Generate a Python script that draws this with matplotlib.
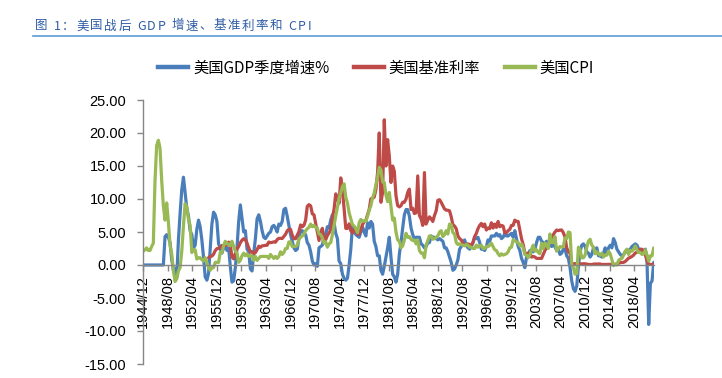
import numpy as np
import matplotlib
matplotlib.use('Agg')
import matplotlib.pyplot as plt
from matplotlib.lines import Line2D

plt.rcParams['font.family'] = ['Noto Sans CJK SC', 'DejaVu Sans']

nan = float('nan')

# Quarterly samples, first = 1944/12, last = 2021/03 (quarter-end months)
gdp_yoy = [
    0,
    0, 0, 0, 0,            # 1945
    0, 0, 0, 0,            # 1946
    0, 0, 0, 0,            # 1947
    4.3, 4.6, 4.2, 3.4,    # 1948
    0.8, -0.8, -0.5, -1.8, # 1949
    3.8, 7.8, 11.4, 13.3,  # 1950
    11.0, 8.6, 7.4, 5.2,   # 1951
    4.6, 2.6, 3.0, 5.4,    # 1952
    6.8, 5.8, 3.8, 1.2,    # 1953
    -1.8, -2.3, -1.3, 2.4, # 1954
    6.2, 8.0, 7.6, 6.6,    # 1955
    3.2, 2.5, 1.8, 2.6,    # 1956
    2.8, 2.2, 2.6, -0.2,   # 1957
    -2.6, -2.4, -0.4, 2.6, # 1958
    6.6, 9.1, 7.0, 5.0,    # 1959
    5.2, 2.4, 2.0, -0.6,   # 1960
    -0.9, 1.8, 4.0, 7.0,   # 1961
    7.6, 6.6, 5.2, 4.2,    # 1962
    4.0, 4.4, 4.8, 5.0,    # 1963
    5.8, 6.0, 5.6, 5.0,    # 1964
    6.2, 6.0, 6.6, 8.4,    # 1965
    8.6, 7.4, 6.0, 4.6,    # 1966
    3.6, 2.6, 2.2, 2.4,    # 1967
    4.0, 5.2, 5.2, 4.8,    # 1968
    4.6, 3.4, 3.0, 2.0,    # 1969
    0.6, 0.0, 0.2, -0.2,   # 1970
    2.6, 2.8, 3.0, 4.4,    # 1971
    4.6, 5.8, 5.6, 6.8,    # 1972
    7.6, 6.4, 4.8, 4.0,    # 1973
    0.6, 0.2, -1.4, -2.0,  # 1974
    -2.3, -2.0, 0.0, 2.4,  # 1975
    6.0, 5.6, 4.6, 4.4,    # 1976
    4.2, 5.0, 5.8, 5.0,    # 1977
    4.4, 6.4, 5.6, 6.6,    # 1978
    6.2, 3.6, 2.8, 1.4,    # 1979
    1.4, -0.8, -1.4, -0.2, # 1980
    1.2, 2.6, 4.2, 1.2,    # 1981
    -1.4, -1.8, -2.6, -1.4,# 1982
    1.6, 3.4, 5.6, 7.6,    # 1983
    8.4, 8.4, 7.4, 5.6,    # 1984
    4.6, 4.0, 4.2, 4.2,    # 1985
    4.2, 3.2, 3.0, 2.6,    # 1986
    2.8, 3.4, 3.4, 4.4,    # 1987
    4.2, 4.2, 4.0, 3.8,    # 1988
    4.0, 3.8, 3.6, 2.6,    # 1989
    2.6, 2.0, 1.2, 0.4,    # 1990
    -0.8, -0.6, 0.0, 0.8,  # 1991
    2.4, 2.8, 3.2, 3.8,    # 1992
    3.0, 2.6, 2.4, 2.8,    # 1993
    3.4, 4.2, 4.0, 4.2,    # 1994
    3.4, 2.4, 2.4, 2.2,    # 1995
    2.8, 3.8, 3.6, 4.4,    # 1996
    4.4, 4.4, 4.8, 4.4,    # 1997
    4.6, 4.0, 4.2, 4.8,    # 1998
    4.4, 4.4, 4.6, 4.8,    # 1999
    4.2, 5.2, 4.0, 2.8,    # 2000
    2.2, 1.0, 0.4, -0.4,   # 2001
    1.2, 1.6, 2.2, 2.0,    # 2002
    2.0, 2.4, 3.4, 4.2,    # 2003
    4.2, 3.6, 3.4, 3.2,    # 2004
    3.6, 3.2, 3.2, 2.8,    # 2005
    3.0, 2.8, 2.2, 2.4,    # 2006
    1.6, 1.8, 2.4, 2.4,    # 2007
    1.4, 1.0, -0.4, -2.4,  # 2008
    -3.6, -4.0, -3.2, -0.2,# 2009
    2.0, 3.0, 3.2, 2.8,    # 2010
    2.0, 1.8, 1.2, 1.6,    # 2011
    2.6, 2.4, 2.6, 1.4,    # 2012
    1.4, 1.2, 1.8, 2.6,    # 2013
    1.6, 2.6, 3.0, 2.6,    # 2014
    4.0, 3.4, 2.4, 2.0,    # 2015
    1.6, 1.4, 1.6, 2.0,    # 2016
    2.0, 2.2, 2.4, 2.8,    # 2017
    3.0, 3.2, 3.0, 2.4,    # 2018
    2.2, 2.0, 2.2, 2.4,    # 2019
    0.4, -9.0, -2.8, -2.4, # 2020
    0.4,                   # 2021
]

fed_rate = [nan] * 39 + [
    1.1, 1.3,                  # 1954 Q3-Q4
    1.35, 1.64, 2.18, 2.48,    # 1955
    2.5, 2.71, 2.95, 2.94,     # 1956
    2.96, 3.0, 3.47, 2.98,     # 1957
    1.2, 0.93, 1.76, 2.42,     # 1958
    2.8, 3.39, 3.76, 3.99,     # 1959
    3.84, 3.32, 2.6, 1.98,     # 1960
    2.02, 1.73, 1.88, 2.33,    # 1961
    2.85, 2.68, 2.9, 2.93,     # 1962
    2.98, 2.99, 3.48, 3.38,    # 1963
    3.43, 3.5, 3.45, 3.85,     # 1964
    4.04, 4.04, 4.01, 4.32,    # 1965
    4.65, 5.17, 5.4, 5.4,      # 1966
    4.53, 3.98, 3.99, 4.51,    # 1967
    5.05, 6.07, 5.78, 6.02,    # 1968
    6.79, 8.9, 9.15, 8.97,     # 1969
    7.76, 7.6, 6.29, 4.9,      # 1970
    3.71, 4.91, 5.55, 4.14,    # 1971
    3.83, 4.46, 4.87, 5.33,    # 1972
    7.09, 8.49, 10.78, 9.95,   # 1973
    9.35, 13.2, 11.3, 8.53,    # 1974
    5.54, 5.55, 6.24, 5.2,     # 1975
    4.84, 5.48, 5.25, 4.65,    # 1976
    4.69, 5.39, 6.14, 6.56,    # 1977
    6.79, 7.6, 8.45, 10.03,    # 1978
    10.09, 10.29, 11.43, 14.0, # 1979
    20.0, 9.5, 11.0, 22.0,     # 1980
    15.0, 19.0, 16.5, 12.5,    # 1981
    15.0, 14.2, 10.5, 9.0,     # 1982
    8.8, 9.0, 9.5, 9.5,        # 1983
    10.0, 11.0, 11.5, 8.4,     # 1984
    8.6, 7.8, 7.9, 13.5,       # 1985
    7.5, 7.0, 6.0, 14.0,       # 1986
    6.2, 6.8, 7.3, 7.0,        # 1987
    6.6, 7.5, 8.2, 9.8,        # 1988
    9.9, 9.5, 9.0, 8.5,        # 1989
    8.3, 8.3, 8.2, 7.3,        # 1990
    6.1, 5.9, 5.5, 4.4,        # 1991
    4.0, 3.8, 3.3, 3.0,        # 1992
    3.1, 3.2, 3.1, 3.0,        # 1993
    3.4, 4.3, 4.8, 5.5,        # 1994
    6.0, 6.3, 5.8, 6.2,        # 1995
    5.3, 5.6, 5.5, 6.4,        # 1996
    5.6, 6.2, 5.7, 6.6,        # 1997
    5.8, 6.0, 5.9, 4.9,        # 1998
    4.9, 5.2, 5.4, 6.0,        # 1999
    6.0, 6.8, 6.6, 6.6,        # 2000
    5.3, 4.0, 3.1, 1.8,        # 2001
    1.7, 1.8, 1.8, 1.2,        # 2002
    1.3, 1.2, 1.0, 1.0,        # 2003
    1.0, 1.0, 1.6, 2.2,        # 2004
    2.6, 3.0, 3.6, 4.2,        # 2005
    4.6, 5.0, 5.3, 5.2,        # 2006
    5.3, 5.3, 4.9, 4.2,        # 2007
    2.6, 2.0, 1.8, 0.2,        # 2008
    0.2, 0.2, 0.15, 0.12,      # 2009
    0.16, 0.18, 0.19, 0.18,    # 2010
    0.14, 0.09, 0.08, 0.07,    # 2011
    0.13, 0.16, 0.14, 0.16,    # 2012
    0.14, 0.09, 0.08, 0.09,    # 2013
    0.08, 0.1, 0.09, 0.12,     # 2014
    0.11, 0.13, 0.14, 0.24,    # 2015
    0.36, 0.38, 0.4, 0.54,     # 2016
    0.79, 1.04, 1.15, 1.3,     # 2017
    1.51, 1.82, 1.95, 2.27,    # 2018
    2.41, 2.38, 2.04, 1.55,    # 2019
    0.65, 0.08, 0.09, 0.09,    # 2020
    0.07,                      # 2021
]

cpi_yoy = [
    2.1,
    2.3, 2.6, 2.2, 2.2,        # 1945
    2.8, 3.3, 12.7, 18.1,      # 1946
    18.9, 17.7, 12.8, 9.0,     # 1947
    6.8, 9.4, 6.5, 3.0,        # 1948
    1.7, -0.9, -2.5, -2.1,     # 1949
    -0.9, -0.4, 2.1, 5.9,      # 1950
    9.3, 8.8, 6.9, 6.0,        # 1951
    1.9, 2.3, 2.3, 0.9,        # 1952
    1.1, 1.1, 0.8, 0.6,        # 1953
    1.1, 0.4, -0.4, -0.8,      # 1954
    -0.4, -0.4, 0.4, 0.4,      # 1955
    0.4, 1.9, 1.9, 2.9,        # 1956
    3.6, 3.2, 3.2, 2.9,        # 1957
    3.6, 2.8, 2.1, 1.8,        # 1958
    0.4, 0.7, 1.4, 1.8,        # 1959
    1.4, 1.7, 1.3, 1.4,        # 1960
    1.4, 0.7, 1.3, 0.7,        # 1961
    1.0, 1.3, 1.3, 1.3,        # 1962
    1.3, 1.3, 1.0, 1.6,        # 1963
    1.3, 1.0, 1.3, 1.0,        # 1964
    1.3, 2.0, 1.6, 1.9,        # 1965
    2.5, 2.5, 3.5, 3.5,        # 1966
    2.8, 2.8, 2.8, 3.0,        # 1967
    3.9, 4.2, 4.4, 4.7,        # 1968
    5.2, 5.5, 5.7, 6.2,        # 1969
    5.8, 6.0, 5.7, 5.6,        # 1970
    4.7, 4.6, 4.1, 3.3,        # 1971
    3.5, 2.7, 3.2, 3.4,        # 1972
    4.6, 6.0, 7.4, 8.7,        # 1973
    10.2, 10.9, 11.9, 12.3,    # 1974
    10.3, 9.4, 7.9, 7.0,       # 1975
    6.1, 5.9, 5.5, 4.9,        # 1976
    6.4, 6.9, 6.6, 6.7,        # 1977
    6.6, 7.4, 8.3, 9.0,        # 1978
    10.2, 10.9, 12.2, 13.3,    # 1979
    14.8, 14.4, 12.6, 12.5,    # 1980
    10.6, 9.6, 11.0, 8.9,      # 1981
    6.8, 7.1, 5.0, 3.8,        # 1982
    3.6, 2.6, 2.9, 3.8,        # 1983
    4.8, 4.2, 4.3, 3.9,        # 1984
    3.7, 3.8, 3.2, 3.8,        # 1985
    2.2, 1.8, 1.8, 1.1,        # 1986
    3.0, 3.7, 4.4, 4.4,        # 1987
    3.9, 4.0, 4.2, 4.4,        # 1988
    5.0, 5.2, 4.3, 4.6,        # 1989
    5.2, 4.7, 6.2, 6.1,        # 1990
    4.9, 4.7, 3.4, 3.1,        # 1991
    3.2, 3.1, 3.0, 2.9,        # 1992
    3.1, 3.0, 2.7, 2.7,        # 1993
    2.5, 2.5, 3.0, 2.7,        # 1994
    2.9, 3.0, 2.5, 2.5,        # 1995
    2.8, 2.8, 3.0, 3.3,        # 1996
    2.8, 2.3, 2.2, 1.7,        # 1997
    1.4, 1.7, 1.5, 1.6,        # 1998
    1.7, 2.0, 2.6, 2.7,        # 1999
    3.8, 3.7, 3.5, 3.4,        # 2000
    2.9, 3.2, 2.6, 1.6,        # 2001
    1.5, 1.1, 1.5, 2.4,        # 2002
    3.0, 2.1, 2.3, 1.9,        # 2003
    1.7, 3.3, 2.5, 3.3,        # 2004
    3.1, 2.5, 4.7, 3.4,        # 2005
    3.4, 4.3, 2.1, 2.5,        # 2006
    2.8, 2.7, 2.8, 4.1,        # 2007
    4.0, 5.0, 4.9, 0.1,        # 2008
    -0.4, -1.4, -1.3, 2.7,     # 2009
    2.3, 1.1, 1.1, 1.5,        # 2010
    2.7, 3.6, 3.9, 3.0,        # 2011
    2.7, 1.7, 2.0, 1.7,        # 2012
    1.5, 1.8, 1.2, 1.5,        # 2013
    1.5, 2.1, 1.7, 0.8,        # 2014
    -0.1, 0.1, 0.0, 0.7,       # 2015
    0.9, 1.0, 1.5, 2.1,        # 2016
    2.4, 1.6, 2.2, 2.1,        # 2017
    2.4, 2.9, 2.3, 1.9,        # 2018
    1.9, 1.6, 1.7, 2.3,        # 2019
    1.5, 0.6, 1.4, 1.4,        # 2020
    2.6,                       # 2021
]

tick_labels = ['1944/12', '1948/08', '1952/04', '1955/12', '1959/08', '1963/04',
               '1966/12', '1970/08', '1974/04', '1977/12', '1981/08', '1985/04',
               '1988/12', '1992/08', '1996/04', '1999/12', '2003/08', '2007/04',
               '2010/12', '2014/08', '2018/04']
series_names = ['美国GDP季度增速%', '美国基准利率', '美国CPI']
title_text = '图 1：美国战后 GDP 增速、基准利率和 CPI'

colors = ['#4A7EBB', '#BE4B48', '#98B954']

n = len(gdp_yoy)
assert len(fed_rate) == n and len(cpi_yoy) == n
months = np.arange(n) * 3          # month index from 1944/12
n_months = months[-1] + 1

W, H = 722, 378
fig = plt.figure(figsize=(W / 100, H / 100), dpi=100)
ax = fig.add_axes([143 / W, 1 - 364 / H, (654 - 143) / W, (364 - 100) / H])

for vals, c in zip([gdp_yoy, fed_rate, cpi_yoy], colors):
    ax.plot(months, vals, color=c, lw=2.3, solid_joinstyle='round',
            solid_capstyle='round')

for s in ['top', 'right']:
    ax.spines[s].set_visible(False)
ax.spines['bottom'].set_position(('data', 0))
for s in ['left', 'bottom']:
    ax.spines[s].set_color('#868686')
    ax.spines[s].set_linewidth(1.0)

ax.set_xlim(-0.5, n_months - 0.5)
ax.set_ylim(-15, 25)
ax.set_yticks(np.arange(-15, 26, 5))
ax.yaxis.set_major_formatter(matplotlib.ticker.FormatStrFormatter('%.2f'))
ax.set_xticks(np.arange(len(tick_labels)) * 44)
ax.set_xticklabels(tick_labels)

ax.tick_params(axis='y', direction='out', length=4, width=1, color='#868686',
               pad=8, labelsize=10.5, labelcolor='#000000')
ax.tick_params(axis='x', direction='out', length=4, width=1, color='#868686',
               pad=3, labelsize=10.5, labelcolor='#000000', labelrotation=90)
for lab in ax.get_xticklabels() + ax.get_yticklabels():
    lab.set_fontfamily(['Liberation Sans', 'DejaVu Sans'])
for lab in ax.get_xticklabels():
    lab.set_rotation(90)
    lab.set_ha('center')
    lab.set_va('top')

handles = [Line2D([], [], color=c, lw=3.2) for c in colors]
fig.legend(handles, series_names, loc='center', bbox_to_anchor=(376 / W, 1 - 68 / H),
           ncol=3, frameon=False, fontsize=11, handlelength=2.0,
           handletextpad=0.3, columnspacing=1.6)

# title with letter spacing
fig.canvas.draw()
r = fig.canvas.get_renderer()
xpx = 35
for ch in title_text:
    t = fig.text(xpx / W, 1 - 26 / H, ch, fontsize=9, color='#2F5DA5',
                 va='center', ha='left')
    bb = t.get_window_extent(r)
    xpx = bb.x1 + 1.6
fig.add_artist(Line2D([33 / W, 1.0], [1 - 36 / H, 1 - 36 / H],
                      transform=fig.transFigure, color='#5B9BD5', lw=1.2))

fig.savefig('out.png', dpi=100)
